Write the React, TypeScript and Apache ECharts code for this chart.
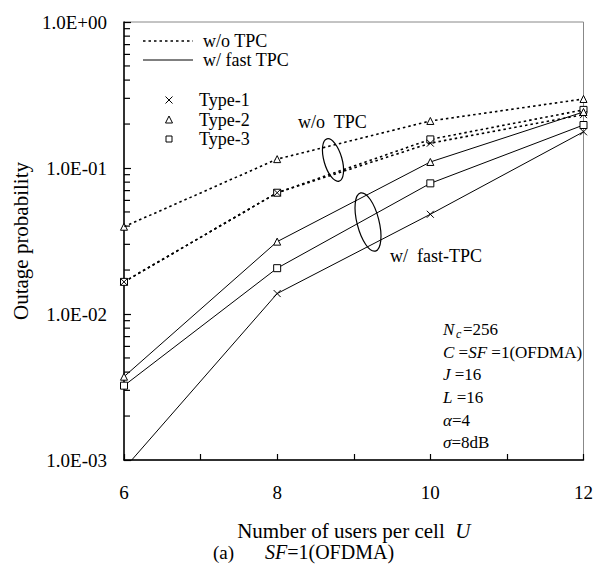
import { useEffect, useRef } from 'react';
import * as echarts from 'echarts';

const users = [6, 8, 10, 12];
const woTpcType1 = [0.0166, 0.0677, 0.148, 0.232];
const woTpcType2 = [0.0396, 0.115, 0.21, 0.297];
const woTpcType3 = [0.0166, 0.0677, 0.157, 0.25];
const fastTpcType1 = [0.00087, 0.0138, 0.0482, 0.177];
const fastTpcType2 = [0.00372, 0.0313, 0.11, 0.242];
const fastTpcType3 = [0.00323, 0.0206, 0.0785, 0.197];
const xTickLabels = ['6', '8', '10', '12'];
const yDecades = [0.001, 0.01, 0.1, 1];
const yTickLabels = ['1.0E-03', '1.0E-02', '1.0E-01', '1.0E+00'];
const minorMultipliers = [2, 3, 4, 5, 6, 7, 8, 9];

const FONT = "'Liberation Serif', 'Times New Roman', serif";
const CROSS = 'path://M0,0L10,10M10,0L0,10';

function mk(name: string, vals: number[], dashed: boolean, symbol: string) {
  return {
    name,
    type: 'line',
    data: users.map((u, i) => [u, vals[i]]),
    symbol,
    symbolSize: 7,
    showSymbol: true,
    clip: true,
    silent: true,
    lineStyle: { color: '#000', width: dashed ? 1.6 : 1, type: dashed ? [2.5, 3] : 'solid' },
    itemStyle: { color: symbol === CROSS ? 'none' : '#fff', borderColor: '#000', borderWidth: 1 },
    emphasis: { disabled: true },
  };
}

export default function App() {
  const ref = useRef<HTMLDivElement>(null);
  useEffect(() => {
    if (!ref.current) return;
    const chart = echarts.init(ref.current, null, { renderer: 'svg' });
    const minorTickValues: number[][] = [];
    yDecades.slice(0, 3).forEach((d) => minorMultipliers.forEach((m) => minorTickValues.push([users[0], d * m])));
    const txt = (x: number, y: number, text: string, fontSize: number, extra: any = {}) => ({
      type: 'text',
      x,
      y,
      silent: true,
      style: { text, fontSize, fontFamily: FONT, fill: '#000', verticalAlign: 'middle', ...extra },
    });
    const italicRich = (fs: number) => ({
      i: { fontStyle: 'italic', fontSize: fs, fontFamily: FONT, fill: '#000' },
    });
    const option: any = {
      animation: false,
      backgroundColor: '#fff',
      grid: { left: 124, right: 10, top: 22, bottom: 104, show: true, borderColor: '#888', borderWidth: 1 },
      xAxis: {
        type: 'value',
        min: 6,
        max: 12,
        interval: 1,
        axisLine: { lineStyle: { color: '#000', width: 1.5 } },
        axisTick: { inside: true, length: 6, lineStyle: { color: '#000', width: 1.2 } },
        axisLabel: {
          margin: 23,
          fontSize: 19,
          color: '#000',
          fontFamily: FONT,
          formatter: (v: number) => (xTickLabels.indexOf(String(v)) >= 0 ? String(v) : ''),
        },
        splitLine: { show: false },
        name: 'Number of users per cell  {i|U}',
        nameLocation: 'middle',
        nameGap: 60,
        nameTextStyle: { fontSize: 21, fontFamily: FONT, color: '#000', rich: italicRich(21) },
      },
      yAxis: {
        type: 'log',
        logBase: 10,
        min: 0.001,
        max: 1,
        axisLine: { show: true, lineStyle: { color: '#000', width: 1.5 } },
        axisTick: { inside: true, length: 7, lineStyle: { color: '#000', width: 1.2 } },
        axisLabel: {
          margin: 17,
          fontSize: 19,
          color: '#000',
          fontFamily: FONT,
          formatter: (v: number) => {
            const idx = yDecades.findIndex((d) => Math.abs(Math.log10(d) - Math.log10(v)) < 1e-6);
            return idx >= 0 ? yTickLabels[idx] : '';
          },
        },
        splitLine: { show: false },
        minorTick: { show: false },
        name: 'Outage probability',
        nameLocation: 'middle',
        nameGap: 90,
        nameTextStyle: { fontSize: 21, fontFamily: FONT, color: '#000' },
      },
      series: [
        {
          name: 'log-minor-ticks',
          type: 'custom',
          clip: false,
          silent: true,
          z: 5,
          data: minorTickValues,
          renderItem: (_params: any, api: any) => {
            const p = api.coord([api.value(0), api.value(1)]);
            return {
              type: 'line',
              shape: { x1: p[0], y1: p[1], x2: p[0] + 6, y2: p[1] },
              style: { stroke: '#000', lineWidth: 1.2 },
            };
          },
        },
        mk('w/o TPC Type-3', woTpcType3, true, 'rect'),
        mk('w/o TPC Type-2', woTpcType2, true, 'triangle'),
        mk('w/o TPC Type-1', woTpcType1, true, CROSS),
        mk('w/ fast TPC Type-3', fastTpcType3, false, 'rect'),
        mk('w/ fast TPC Type-2', fastTpcType2, false, 'triangle'),
        mk('w/ fast TPC Type-1', fastTpcType1, false, CROSS),
      ],
      graphic: [
        { type: 'line', silent: true, shape: { x1: 143, y1: 41, x2: 193, y2: 41 }, style: { stroke: '#000', lineWidth: 1.6, lineDash: [2.5, 3] } },
        txt(203, 41, 'w/o TPC', 18),
        { type: 'line', silent: true, shape: { x1: 143, y1: 60, x2: 193, y2: 60 }, style: { stroke: '#000', lineWidth: 1 } },
        txt(203, 60, 'w/ fast TPC', 18),
        { type: 'line', silent: true, shape: { x1: 165.5, y1: 96.5, x2: 172.5, y2: 103.5 }, style: { stroke: '#000', lineWidth: 1 } },
        { type: 'line', silent: true, shape: { x1: 172.5, y1: 96.5, x2: 165.5, y2: 103.5 }, style: { stroke: '#000', lineWidth: 1 } },
        txt(199, 100, 'Type-1', 18),
        { type: 'polygon', silent: true, shape: { points: [[169, 116], [165.5, 123], [172.5, 123]] }, style: { stroke: '#000', fill: '#fff', lineWidth: 1 } },
        txt(199, 120, 'Type-2', 18),
        { type: 'rect', silent: true, shape: { x: 166, y: 136, width: 6, height: 6 }, style: { stroke: '#000', fill: '#fff', lineWidth: 1 } },
        txt(199, 139, 'Type-3', 18),
        txt(298, 122, 'w/o  TPC', 18),
        txt(390, 256, 'w/  fast-TPC', 18),
        { type: 'ellipse', silent: true, x: 333, y: 160, rotation: 0.28, shape: { cx: 0, cy: 0, rx: 9, ry: 22 }, style: { stroke: '#000', fill: 'none', lineWidth: 1.2 } },
        { type: 'ellipse', silent: true, x: 368, y: 222, rotation: 0.25, shape: { cx: 0, cy: 0, rx: 11, ry: 30 }, style: { stroke: '#000', fill: 'none', lineWidth: 1.2 } },
        txt(443, 329, 'N', 17, { fontStyle: 'italic' }),
        txt(456, 334, 'c', 12, { fontStyle: 'italic' }),
        txt(463, 329, '=256', 17),
        txt(443, 352, '{i|C} ={i|SF} =1(OFDMA)', 17, { rich: italicRich(17) }),
        txt(443, 374, '{i|J} =16', 17, { rich: italicRich(17) }),
        txt(443, 397, '{i|L} =16', 17, { rich: italicRich(17) }),
        txt(443, 420, '{i|α}=4', 17, { rich: italicRich(17) }),
        txt(443, 442, '{i|σ}=8dB', 17, { rich: italicRich(17) }),
        txt(213, 552, '(a)', 19),
        txt(265, 552, '{i|SF}=1(OFDMA)', 20, { rich: italicRich(20) }),
      ],
    };
    chart.setOption(option);
    return () => chart.dispose();
  }, []);
  return <div ref={ref} style={{ position: 'fixed', left: 0, top: 0, width: 596, height: 564 }} />;
}
